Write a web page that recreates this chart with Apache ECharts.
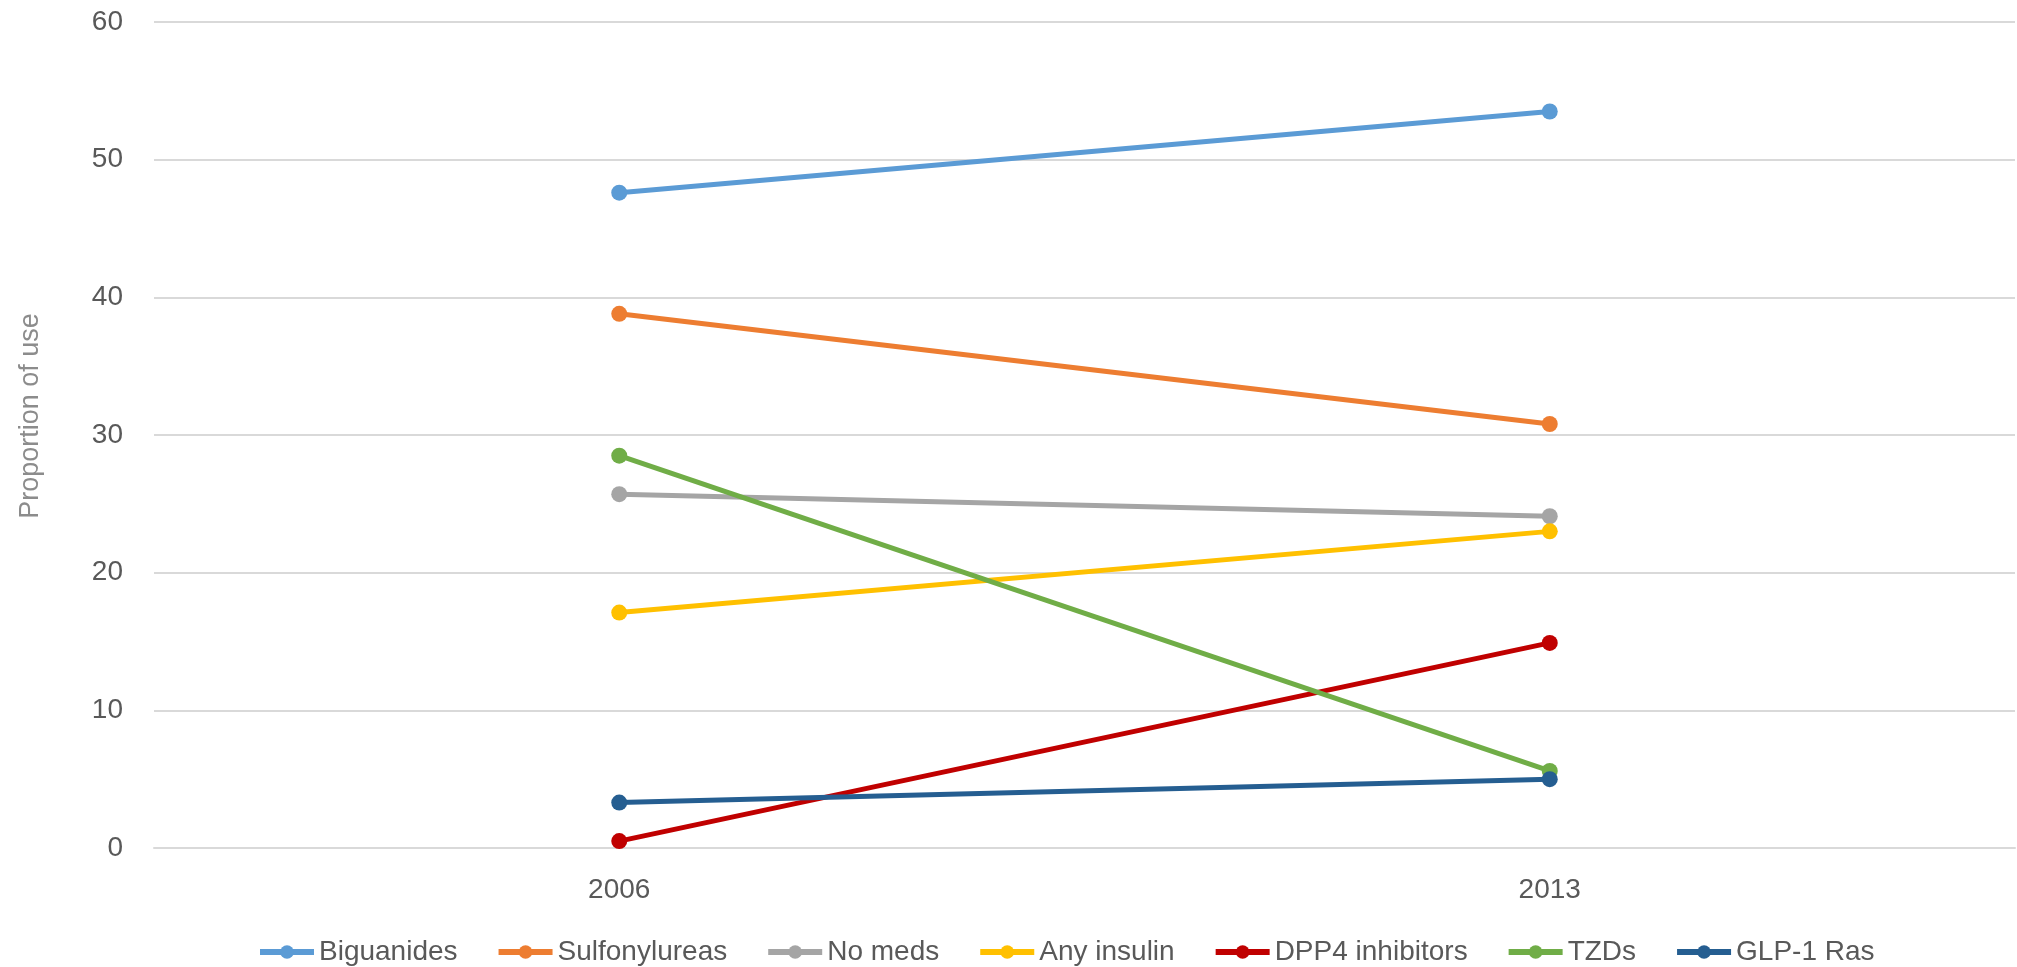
<!DOCTYPE html>
<html>
<head>
<meta charset="utf-8">
<script src="https://cdn.jsdelivr.net/npm/echarts@6/dist/echarts.min.js"></script>
<style>
  html, body { margin: 0; padding: 0; background: #fff; }
  #chart { width: 2017px; height: 967px; }
</style>
</head>
<body>
<div id="chart"></div>
<script>
const years = ["2006", "2013"];
const seriesNames = ["Biguanides", "Sulfonylureas", "No meds", "Any insulin", "DPP4 inhibitors", "TZDs", "GLP-1 Ras"];
const biguanides = [47.6, 53.5];
const sulfonylureas = [38.8, 30.8];
const noMeds = [25.7, 24.1];
const anyInsulin = [17.1, 23.0];
const dpp4 = [0.5, 14.9];
const tzds = [28.5, 5.6];
const glp1 = [3.3, 5.0];
const colors = ["#5B9BD5", "#ED7D31", "#A5A5A5", "#FFC000", "#C00000", "#70AD47", "#255E91"];

const values = [biguanides, sulfonylureas, noMeds, anyInsulin, dpp4, tzds, glp1];
const font = "Liberation Sans";

const chart = echarts.init(document.getElementById("chart"));
chart.setOption({
  animation: false,
  color: colors,
  textStyle: { fontFamily: font },
  grid: { left: 154, right: 2, top: 22, bottom: 119 },
  legend: {
    left: 252,
    bottom: -4,
    itemWidth: 54,
    itemHeight: 17,
    itemGap: 38,
    lineStyle: { width: 6 },
    textStyle: { fontSize: 28, color: "#595959", fontFamily: font },
    data: seriesNames
  },
  xAxis: {
    type: "category",
    data: years,
    axisLine: { lineStyle: { color: "#d9d9d9", width: 2 } },
    axisTick: { show: false },
    axisLabel: { fontSize: 28, color: "#595959", margin: 28 }
  },
  yAxis: {
    type: "value",
    min: 0,
    max: 60,
    interval: 10,
    name: "Proportion of use",
    nameLocation: "middle",
    nameGap: 110,
    nameTextStyle: { fontSize: 27, color: "#8c8c8c", padding: [0, 0, 0, 38] },
    axisLine: { show: false },
    axisTick: { show: false },
    axisLabel: { fontSize: 28, color: "#595959", margin: 31 },
    splitLine: { lineStyle: { color: "#d9d9d9", width: 2 } }
  },
  series: seriesNames.map((name, i) => ({
    name: name,
    type: "line",
    data: values[i],
    symbol: "circle",
    symbolSize: 16,
    lineStyle: { width: 5 },
    itemStyle: { color: colors[i] }
  }))
});
</script>
</body>
</html>
